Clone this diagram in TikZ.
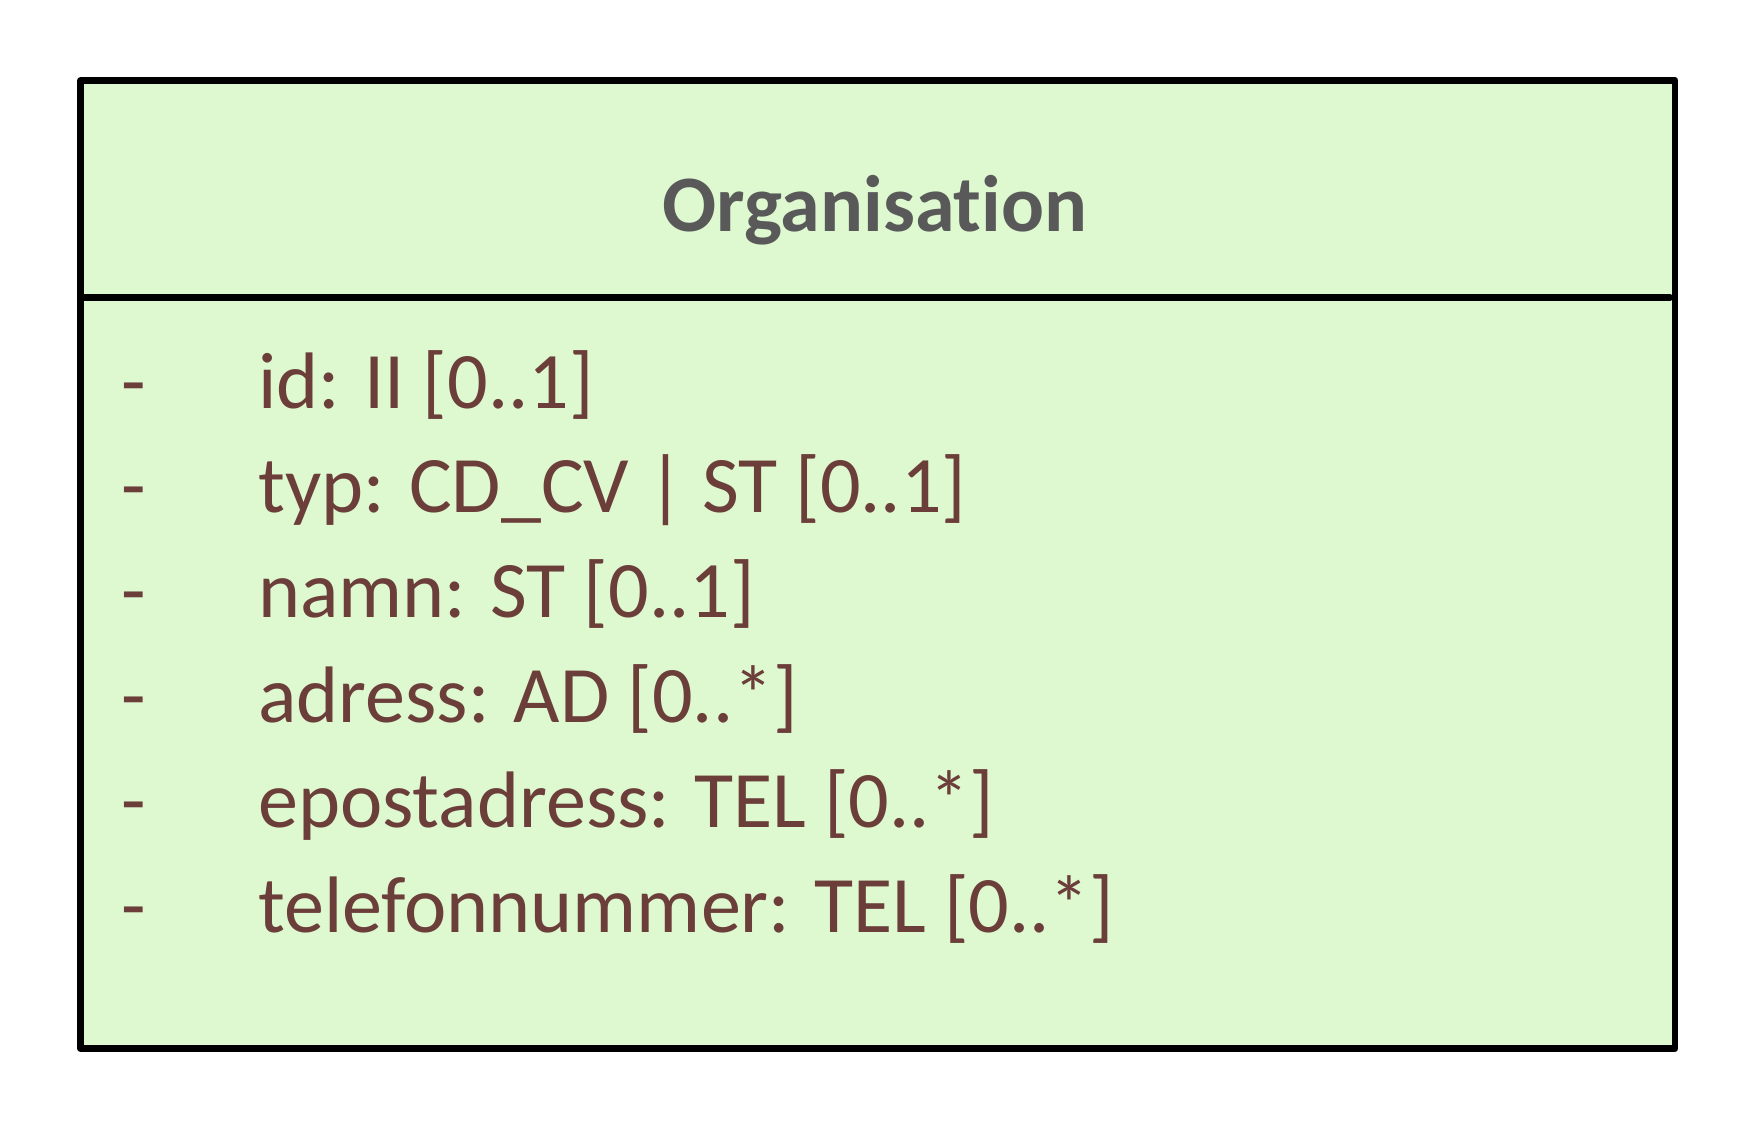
\documentclass[tikz,border=0pt]{standalone}
\usepackage{fontspec}
\setmainfont{Carlito}[RawFeature=-liga]
\definecolor{classgreen}{HTML}{DEF8D0}
\definecolor{attrbrown}{HTML}{6B3E3A}
\definecolor{titlegray}{HTML}{595959}
\begin{document}
\begin{tikzpicture}[x=0.02cm,y=-0.02cm,
  umlline/.style={line width=3.8pt,line join=round,line cap=round},
  attr/.style={anchor=base west,inner sep=0pt,text=attrbrown,font=\fontsize{45.6}{50}\selectfont}]
\useasboundingbox (0,0) rectangle (1754,1126);

% class box
\draw[umlline,fill=classgreen] (80.5,80.5) rectangle (1675,1048.5);
\coordinate (divl) at (80.5,297.6);
\coordinate (divr) at (1670,297.6);
\draw[umlline] (divl) -- (divr);

\node[anchor=base,inner sep=0pt,text=titlegray,font=\fontsize{45.6}{50}\selectfont\bfseries] (title) at (875,231.6) {Organisation};

% attributes
\foreach \t [count=\i] in {{id: II [0..1]},{typ: CD\_CV | ST [0..1]},{namn: ST [0..1]},{adress: AD [0..*]},{epostadress: TEL [0..*]},{telefonnummer: TEL [0..*]}}
{
  \node[attr] (dash\i) at (121,{408+104.8*(\i-1)}) {-};
  \node[attr] (attr\i) at (258,{408+104.8*(\i-1)}) {\t};
}
\end{tikzpicture}
\end{document}
